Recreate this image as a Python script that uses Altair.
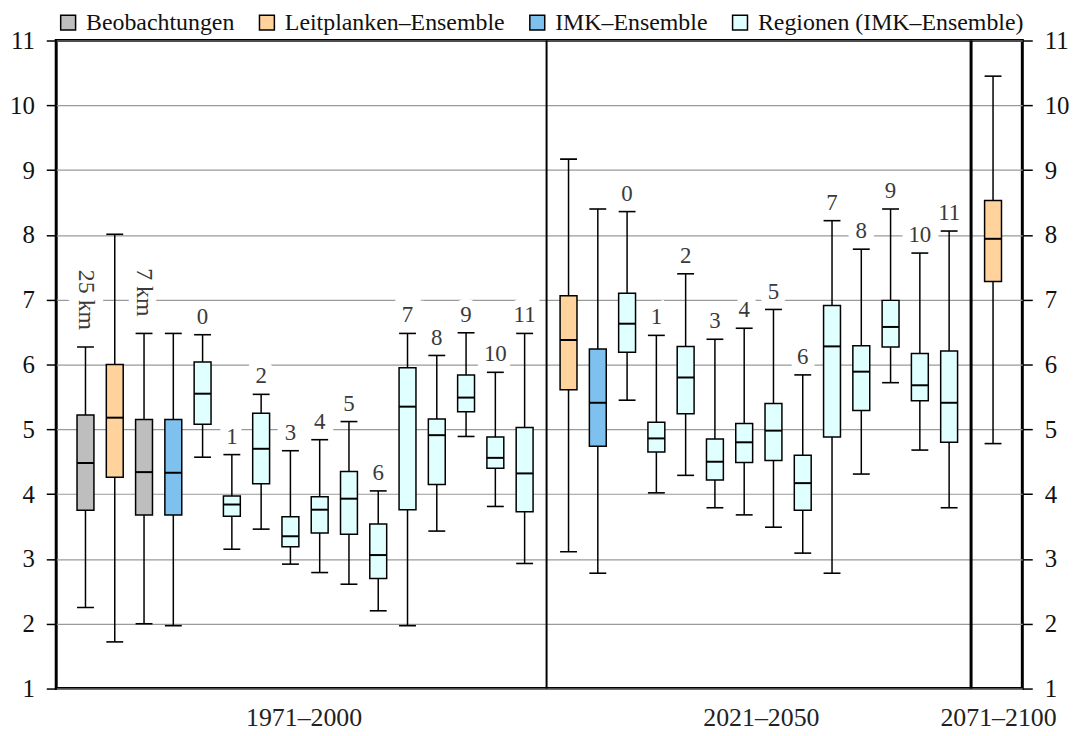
import altair as alt
import pandas as pd

REG = "Regionen (IMK–Ensemble)"
kinds = (["Beobachtungen", "Leitplanken–Ensemble", "Beobachtungen", "IMK–Ensemble"]
         + [REG] * 12 + ["Leitplanken–Ensemble", "IMK–Ensemble"] + [REG] * 12
         + ["Leitplanken–Ensemble"])
positions = list(range(1, 17)) + [17.5 + i for i in range(14)] + [32]
labels = (["25 km", "", "7 km", ""] + [str(i) for i in range(12)] + ["", ""]
          + [str(i) for i in range(12)] + [""])

lo = [2.25, 1.72, 2.00, 1.97, 4.57, 3.15, 3.46, 2.92, 2.79, 2.61, 2.20, 1.97, 3.43, 4.89, 3.81, 2.93,
      3.11, 2.78, 5.45, 4.02, 4.29, 3.79, 3.68, 3.49, 3.09, 2.78, 4.31, 5.72, 4.68, 3.79,
      4.78]
q1 = [3.75, 4.26, 3.68, 3.68, 5.08, 3.66, 4.16, 3.19, 3.40, 3.38, 2.70, 3.76, 4.15, 5.27, 4.40, 3.73,
      5.61, 4.74, 6.19, 4.65, 5.24, 4.22, 4.49, 4.52, 3.75, 4.88, 5.29, 6.27, 5.44, 4.80,
      7.28]
med = [4.48, 5.18, 4.34, 4.33, 5.55, 3.84, 4.70, 3.35, 3.76, 3.93, 3.06, 5.35, 4.91, 5.49, 4.56, 4.32,
       6.38, 5.41, 6.63, 4.86, 5.80, 4.50, 4.80, 4.98, 4.17, 6.28, 5.89, 6.58, 5.68, 5.41,
       7.94]
q3 = [5.22, 6.00, 5.15, 5.15, 6.04, 3.97, 5.25, 3.65, 3.96, 4.35, 3.54, 5.95, 5.16, 5.84, 4.88, 5.03,
      7.06, 6.24, 7.10, 5.11, 6.28, 4.85, 5.09, 5.40, 4.60, 6.91, 6.29, 6.99, 6.17, 6.21,
      8.53]
hi = [6.27, 8.01, 6.48, 6.48, 6.46, 4.61, 5.54, 4.67, 4.84, 5.12, 4.05, 6.48, 6.14, 6.49, 5.88, 6.48,
      9.17, 8.40, 8.36, 6.45, 7.40, 6.39, 6.56, 6.85, 5.84, 8.22, 7.78, 8.40, 7.72, 8.06,
      10.45]

legend_order = ["Beobachtungen", "Leitplanken–Ensemble", "IMK–Ensemble", REG]
legend_colors = ["#BEBEBE", "#FFD39B", "#7EC0EE", "#E0FFFF"]

dividers = [16.75, 31.25]
divider_widths = [2, 3]

periods = ["1971–2000", "2021–2050", "2071–2100"]
period_pos = [8.45, 24.07, 32.17]

FONT = "Liberation Serif"

df = pd.DataFrame({"kind": kinds, "pos": positions, "label": labels,
                   "lo": lo, "q1": q1, "med": med, "q3": q3, "hi": hi})
df["rot"] = df["label"].str.endswith("km")
ddf = pd.DataFrame({"d": dividers, "w": divider_widths})

xscale = alt.Scale(domain=[0, 33], nice=False, zero=False, padding=0)
yscale = alt.Scale(domain=[1, 11], nice=False, zero=False, padding=0)

label_expr = " : ".join(
    [f"datum.value < {p + 0.5} ? '{t}'" for p, t in zip(period_pos[:-1], periods[:-1])]
) + f" : '{periods[-1]}'"

x_axis = alt.Axis(values=period_pos, labelExpr=label_expr, ticks=False, domain=False, grid=False,
                  labelFont=FONT, labelFontSize=26, labelColor="#222", labelPadding=16,
                  labelFlush=False, labelOverlap=False, labelBound=False, title=None)
y_left = alt.Axis(values=list(range(1, 12)), format="d", orient="left", grid=True,
                  gridColor="#9a9a9a", gridWidth=1.2, tickSize=10, tickColor="black",
                  tickWidth=1.5, domain=False, labelFont=FONT, labelFontSize=25,
                  labelColor="#111", labelPadding=12, title=None)
y_right = alt.Axis(values=list(range(1, 12)), format="d", orient="right", grid=False,
                   tickSize=10, tickColor="black", tickWidth=1.5, domain=False,
                   labelFont=FONT, labelFontSize=25, labelColor="#111", labelPadding=12,
                   title=None)

base = alt.Chart(df)

whisk = base.mark_rule(color="black", strokeWidth=1.5).encode(
    x=alt.X("pos:Q", scale=xscale, axis=x_axis),
    y=alt.Y("lo:Q", scale=yscale, axis=y_left),
    y2="hi:Q",
)

boxes = base.mark_bar(size=17, stroke="black", strokeWidth=1.5, opacity=1).encode(
    x=alt.X("pos:Q", scale=xscale, axis=None),
    y=alt.Y("q1:Q", scale=yscale, axis=None),
    y2="q3:Q",
    color=alt.Color("kind:N", scale=alt.Scale(domain=legend_order, range=legend_colors),
                    legend=alt.Legend(orient="none", legendX=0, legendY=-30, direction="horizontal",
                                      title=None, symbolType="square", symbolSize=225,
                                      symbolStrokeColor="black", symbolStrokeWidth=1.5,
                                      symbolOpacity=1, labelFont=FONT, labelFontSize=24,
                                      labelColor="#111", labelOffset=6, columnPadding=20,
                                      labelLimit=400, padding=0)),
)

medians = base.mark_tick(orient="horizontal", size=17, thickness=2, color="black", opacity=1).encode(
    x=alt.X("pos:Q", scale=xscale, axis=None),
    y=alt.Y("med:Q", scale=yscale, axis=None),
)
caps_lo = base.mark_tick(orient="horizontal", size=17, thickness=1.6, color="black", opacity=1).encode(
    x=alt.X("pos:Q", scale=xscale, axis=None),
    y=alt.Y("lo:Q", scale=yscale, axis=None),
)
caps_hi = base.mark_tick(orient="horizontal", size=17, thickness=1.6, color="black", opacity=1).encode(
    x=alt.X("pos:Q", scale=xscale, axis=None),
    y=alt.Y("hi:Q", scale=yscale, axis=y_right),
)

divs = alt.Chart(ddf).mark_rule(color="black").encode(
    x=alt.X("d:Q", scale=xscale, axis=None),
    strokeWidth=alt.StrokeWidth("w:Q", scale=None, legend=None),
)

num = base.transform_filter("datum.label != '' && !datum.rot")
num_halo = num.mark_text(font=FONT, fontSize=23, baseline="bottom", dy=-6, color="white",
                         stroke="white", strokeWidth=16).encode(
    x=alt.X("pos:Q", scale=xscale, axis=None),
    y=alt.Y("hi:Q", scale=yscale, axis=None),
    text="label:N",
)
num_text = num.mark_text(font=FONT, fontSize=23, baseline="bottom", dy=-6, color="#3a3a3a").encode(
    x=alt.X("pos:Q", scale=xscale, axis=None),
    y=alt.Y("hi:Q", scale=yscale, axis=None),
    text="label:N",
)

rot = base.transform_filter("datum.rot")
rot_halo = rot.mark_text(font=FONT, fontSize=24, angle=90, align="right", baseline="middle",
                         dx=-17, color="white", stroke="white", strokeWidth=16).encode(
    x=alt.X("pos:Q", scale=xscale, axis=None),
    y=alt.Y("hi:Q", scale=yscale, axis=None),
    text="label:N",
)
rot_text = rot.mark_text(font=FONT, fontSize=24, angle=90, align="right", baseline="middle",
                         dx=-17, color="#3a3a3a").encode(
    x=alt.X("pos:Q", scale=xscale, axis=None),
    y=alt.Y("hi:Q", scale=yscale, axis=None),
    text="label:N",
)

chart = alt.layer(
    whisk, boxes, medians, caps_lo, caps_hi, divs, num_halo, num_text, rot_halo, rot_text
).resolve_axis(y="independent", x="independent").properties(
    width=972, height=652,
    background="white",
    autosize=alt.AutoSizeParams(type="none"),
    padding={"left": 48.5, "top": 30.5, "right": 52, "bottom": 42},
).configure_view(stroke="black", strokeWidth=3)

chart.save("out.html", embed_options={"renderer": "svg", "actions": False})
